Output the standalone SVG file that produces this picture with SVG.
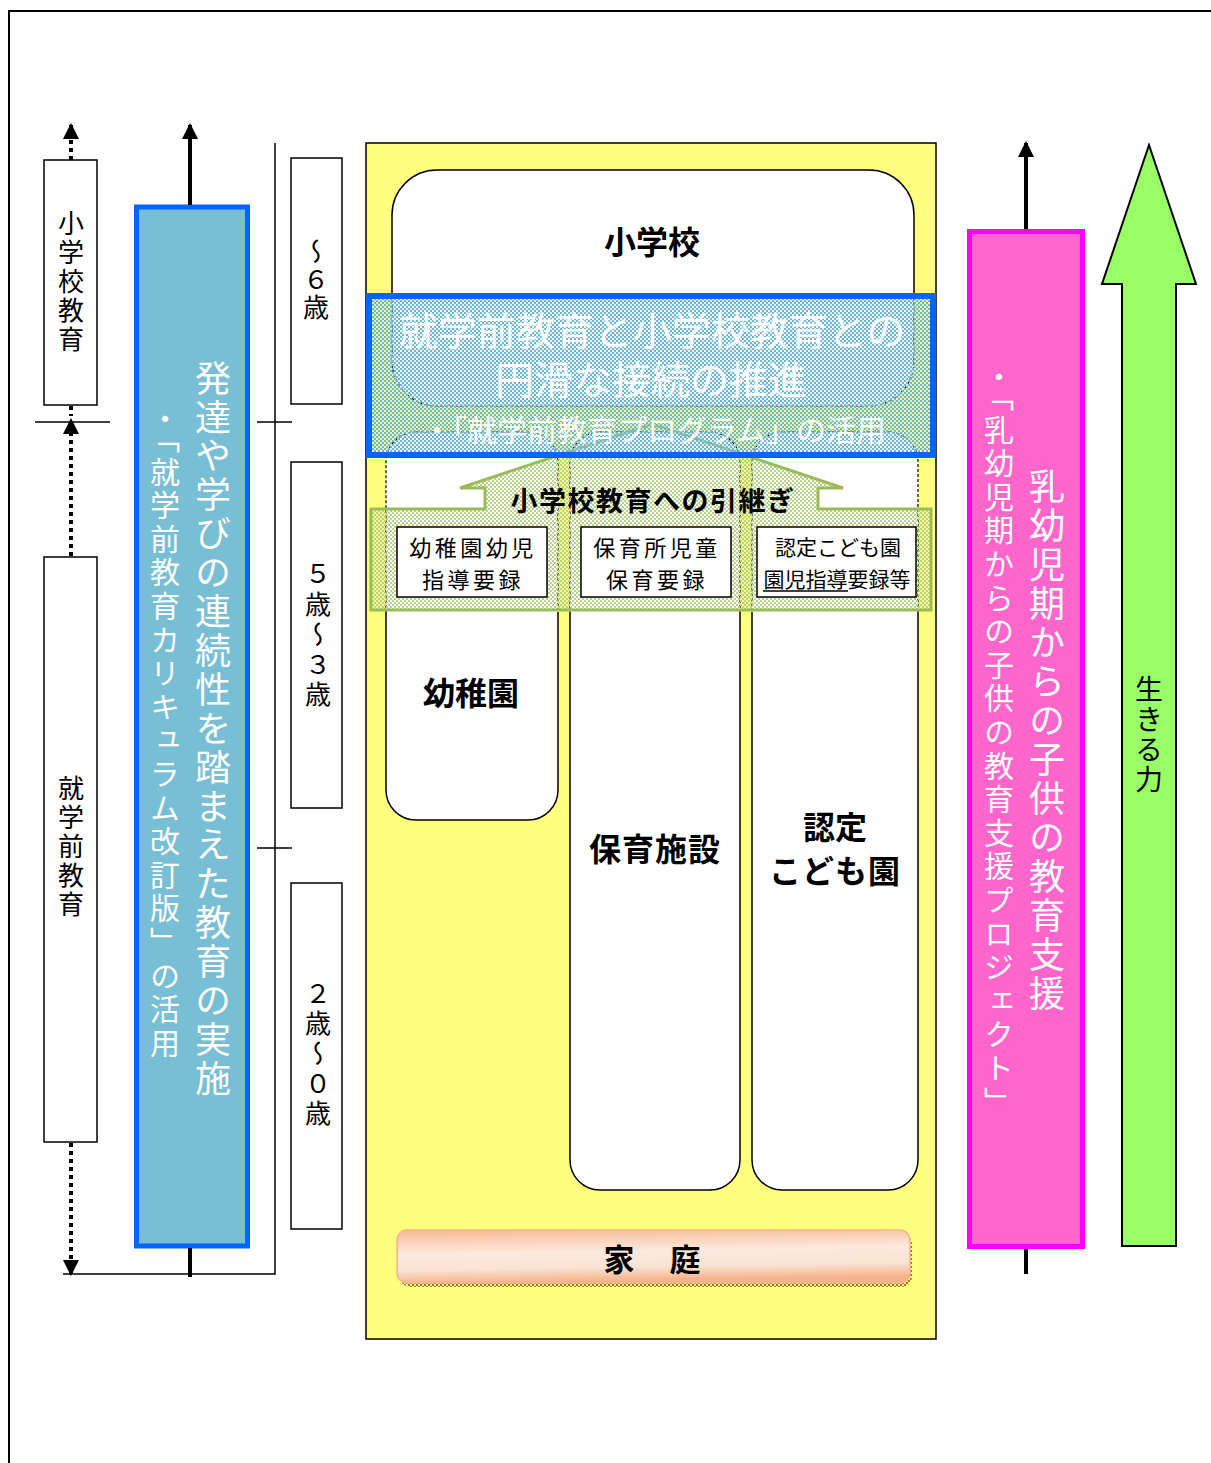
<svg xmlns="http://www.w3.org/2000/svg" width="1211" height="1463" viewBox="0 0 1211 1463">
<defs>
<style>
.t{font-family:"Noto Sans CJK JP","Noto Sans",sans-serif;}
.v{writing-mode:vertical-rl;}
.b{font-weight:bold;}
.wbox{fill:#fff;stroke:#000;stroke-width:1.5;}
.ln{stroke:#000;stroke-width:1.5;fill:none;}
.dot{stroke:#000;stroke-width:4;stroke-dasharray:4 4;fill:none;}
.thick{stroke:#000;stroke-width:4;fill:none;}
.dash{fill:none;stroke:#000;stroke-width:1.2;stroke-dasharray:3 2;}
</style>
<marker id="ah" viewBox="0 0 16 16" refX="14" refY="8" markerWidth="16" markerHeight="16" markerUnits="userSpaceOnUse" orient="auto">
<path d="M0,0 L16,8 L0,16 z" fill="#000"/>
</marker>
<pattern id="hb" width="4" height="4" patternUnits="userSpaceOnUse">
<rect x="0" y="0" width="2" height="2" fill="#6DB6D6"/>
<rect x="2" y="2" width="2" height="2" fill="#6DB6D6"/>
<rect x="2" y="0" width="2" height="2" fill="#C4E4EE" fill-opacity="0.5"/>
</pattern>
<pattern id="hg" width="4" height="4" patternUnits="userSpaceOnUse">
<rect x="0" y="0" width="2" height="2" fill="#B7D48E"/>
<rect x="2" y="2" width="2" height="2" fill="#B7D48E"/>
</pattern>
<pattern id="hs" width="4" height="4" patternUnits="userSpaceOnUse">
<rect x="0" y="0" width="2" height="2" fill="#B0702A"/>
<rect x="2" y="2" width="2" height="2" fill="#B0702A"/>
</pattern>
<linearGradient id="gk" x1="0" y1="0" x2="0.15" y2="1">
<stop offset="0" stop-color="#F8B992"/>
<stop offset="0.45" stop-color="#FCE9DE"/>
<stop offset="0.75" stop-color="#FBE3D3"/>
<stop offset="1" stop-color="#F6B28A"/>
</linearGradient>
<clipPath id="outer"><path d="M0,0 H1211 V1463 H0 Z M369,296 V612 H933 V296 Z" clip-rule="evenodd"/></clipPath>
<clipPath id="inner"><rect x="369" y="296" width="564" height="316"/></clipPath>
</defs>

<rect x="0" y="0" width="1211" height="1463" fill="#fff"/>
<path d="M9,1463 V11 H1211" fill="none" stroke="#000" stroke-width="2"/>

<!-- left column -->
<g id="n-shogakko-kyoiku">
<rect class="wbox" x="44" y="160" width="53" height="245"/>
<text class="t v" x="71" y="210" font-size="26" letter-spacing="3" fill="#000">小学校教育</text>
</g>
<g id="n-shugakumae-kyoiku">
<rect class="wbox" x="44" y="557" width="53" height="585"/>
<text class="t v" x="71" y="775" font-size="26" letter-spacing="3" fill="#000">就学前教育</text>
</g>

<!-- age boxes -->
<g id="n-age6">
<rect class="wbox" x="291" y="158" width="51" height="246"/>
<text class="t v" x="316" y="238" font-size="26" letter-spacing="2" fill="#000">〜６歳</text>
</g>
<g id="n-age5-3">
<rect class="wbox" x="291" y="462" width="51" height="346"/>
<text class="t v" x="318" y="561" font-size="26" letter-spacing="4" fill="#000">５歳〜３歳</text>
</g>
<g id="n-age2-0">
<rect class="wbox" x="291" y="883" width="51" height="346"/>
<text class="t v" x="318" y="980" font-size="26" letter-spacing="4" fill="#000">２歳〜０歳</text>
</g>

<!-- blue column -->
<g id="n-renzokusei">
<rect x="136.5" y="207" width="111" height="1039" fill="#78BED4" stroke="#0066FF" stroke-width="5"/>
<text class="t v" x="213" y="360" font-size="36" letter-spacing="2.9" fill="#fff">発達や学びの連続性を踏まえた教育の実施</text>
<text class="t v" x="165" y="404" font-size="30" letter-spacing="3.6" fill="#fff">・「就学前教育カリキュラム改訂版」の活用</text>
</g>

<!-- central yellow area -->
<g id="n-area">
<rect x="366" y="143" width="570" height="1196" fill="#FFFF80" stroke="#000" stroke-width="1.5"/>
</g>

<g id="n-shogakko">
<rect x="392" y="170" width="522" height="236" rx="45" fill="#fff"/>
<rect class="ln" x="392" y="170" width="522" height="236" rx="45" clip-path="url(#outer)"/>
<rect class="dash" x="392" y="170" width="522" height="236" rx="45" clip-path="url(#inner)"/>
<text class="t b" x="652" y="240" font-size="32" text-anchor="middle" dominant-baseline="central" fill="#000">小学校</text>
</g>

<g id="n-yochien">
<rect x="386" y="432" width="172" height="388" rx="30" fill="#fff"/>
<rect class="ln" x="386" y="432" width="172" height="388" rx="30" clip-path="url(#outer)"/>
<rect class="dash" x="386" y="432" width="172" height="388" rx="30" clip-path="url(#inner)"/>
<text class="t b" x="471" y="691" font-size="32" text-anchor="middle" dominant-baseline="central" fill="#000">幼稚園</text>
</g>

<g id="n-hoiku">
<rect x="570" y="432" width="170" height="758" rx="30" fill="#fff"/>
<rect class="ln" x="570" y="432" width="170" height="758" rx="30" clip-path="url(#outer)"/>
<rect class="dash" x="570" y="432" width="170" height="758" rx="30" clip-path="url(#inner)"/>
<text class="t b" x="655" y="847" font-size="32" letter-spacing="1" text-anchor="middle" dominant-baseline="central" fill="#000">保育施設</text>
</g>

<g id="n-nintei">
<rect x="752" y="432" width="166" height="758" rx="30" fill="#fff"/>
<rect class="ln" x="752" y="432" width="166" height="758" rx="30" clip-path="url(#outer)"/>
<rect class="dash" x="752" y="432" width="166" height="758" rx="30" clip-path="url(#inner)"/>
<text class="t b" x="835" y="825" font-size="32" text-anchor="middle" dominant-baseline="central" fill="#000">認定</text>
<text class="t b" x="835" y="869" font-size="32" letter-spacing="1" text-anchor="middle" dominant-baseline="central" fill="#000">こども園</text>
</g>

<!-- green transfer arrow -->
<g id="n-hikitsugi">
<path d="M371,509 H485 V488 H460 L652,424 L843,488 H818 V509 H931 V610 H371 Z" fill="url(#hg)" stroke="#9BBB59" stroke-width="3" stroke-linejoin="miter"/>
<text class="t b" x="653" y="499" font-size="27" letter-spacing="1.5" text-anchor="middle" dominant-baseline="central" fill="#000">小学校教育への引継ぎ</text>
</g>

<g id="n-yoroku1">
<rect class="wbox" x="397" y="527" width="150" height="70"/>
<text class="t" x="473" y="546" font-size="22" letter-spacing="3.5" text-anchor="middle" dominant-baseline="central" fill="#000">幼稚園幼児</text>
<text class="t" x="473" y="578" font-size="22" letter-spacing="3.5" text-anchor="middle" dominant-baseline="central" fill="#000">指導要録</text>
</g>
<g id="n-yoroku2">
<rect class="wbox" x="581" y="527" width="150" height="70"/>
<text class="t" x="657" y="546" font-size="22" letter-spacing="3.5" text-anchor="middle" dominant-baseline="central" fill="#000">保育所児童</text>
<text class="t" x="657" y="578" font-size="22" letter-spacing="3.5" text-anchor="middle" dominant-baseline="central" fill="#000">保育要録</text>
</g>
<g id="n-yoroku3">
<rect class="wbox" x="757" y="527" width="159" height="70"/>
<text class="t" x="838" y="546" font-size="21" letter-spacing="0" text-anchor="middle" dominant-baseline="central" fill="#000">認定こども園</text>
<text class="t" x="837" y="578" font-size="21" letter-spacing="0" text-anchor="middle" dominant-baseline="central" fill="#000">園児指導要録等</text>
<line x1="763" y1="591" x2="848" y2="591" stroke="#000" stroke-width="1.5"/>
</g>

<!-- blue hatched box -->
<g id="n-setsuzoku">
<rect x="369" y="296" width="564" height="159" fill="url(#hb)" stroke="#0066FF" stroke-width="6"/>
<text class="t" x="652" y="328" font-size="39" text-anchor="middle" dominant-baseline="central" fill="#fff">就学前教育と小学校教育との</text>
<text class="t" x="651" y="377" font-size="39" text-anchor="middle" dominant-baseline="central" fill="#fff">円滑な接続の推進</text>
<text class="t" x="654" y="428" font-size="30" text-anchor="middle" dominant-baseline="central" fill="#fff">・「就学前教育プログラム」の活用</text>
</g>

<!-- family -->
<g id="n-katei">
<rect x="400" y="1234" width="512" height="53" rx="10" fill="url(#hs)"/>
<rect x="397" y="1230" width="513" height="53" rx="10" fill="url(#gk)" stroke="#F7B38A" stroke-width="1.5"/>
<text class="t b" x="653" y="1257" font-size="31" letter-spacing="2" text-anchor="middle" dominant-baseline="central" fill="#000">家　庭</text>
</g>

<!-- pink column -->
<g id="n-nyuyoji">
<rect x="969.5" y="231.5" width="113" height="1015" fill="#FF66CC" stroke="#FF00FF" stroke-width="5"/>
<text class="t v" x="1047" y="468" font-size="36" letter-spacing="3" fill="#fff">乳幼児期からの子供の教育支援</text>
<text class="t v" x="999" y="362" font-size="30" letter-spacing="3.6" fill="#fff">・「乳幼児期からの子供の教育支援プロジェクト」</text>
</g>

<!-- green big arrow -->
<g id="n-ikiruchikara">
<path d="M1149,145 L1196,284 H1176 V1246 H1122 V284 H1102 Z" fill="#99FF66" stroke="#000" stroke-width="2"/>
<text class="t v" x="1149" y="675" font-size="28" letter-spacing="2" fill="#000">生きる力</text>
</g>

<!-- connectors -->
<g id="connectors">
<line class="dot" x1="71" y1="160" x2="71" y2="125" marker-end="url(#ah)"/>
<line class="dot" x1="71" y1="406" x2="71" y2="416"/>
<line class="dot" x1="71" y1="556" x2="71" y2="420" marker-end="url(#ah)"/>
<line class="dot" x1="71" y1="1143" x2="71" y2="1274" marker-end="url(#ah)"/>
<line class="ln" x1="35" y1="422" x2="110" y2="422"/>
<path class="ln" d="M63,1274 H275 V143"/>
<line class="ln" x1="257" y1="422" x2="292" y2="422"/>
<line class="ln" x1="257" y1="848" x2="292" y2="848"/>
<line class="thick" x1="190" y1="205" x2="190" y2="125" marker-end="url(#ah)"/>
<line class="thick" x1="190" y1="1248" x2="190" y2="1277" stroke-width="5"/>
<line class="thick" x1="1026" y1="229" x2="1026" y2="143" marker-end="url(#ah)"/>
<line class="thick" x1="1026" y1="1249" x2="1026" y2="1274"/>
</g>
</svg>
